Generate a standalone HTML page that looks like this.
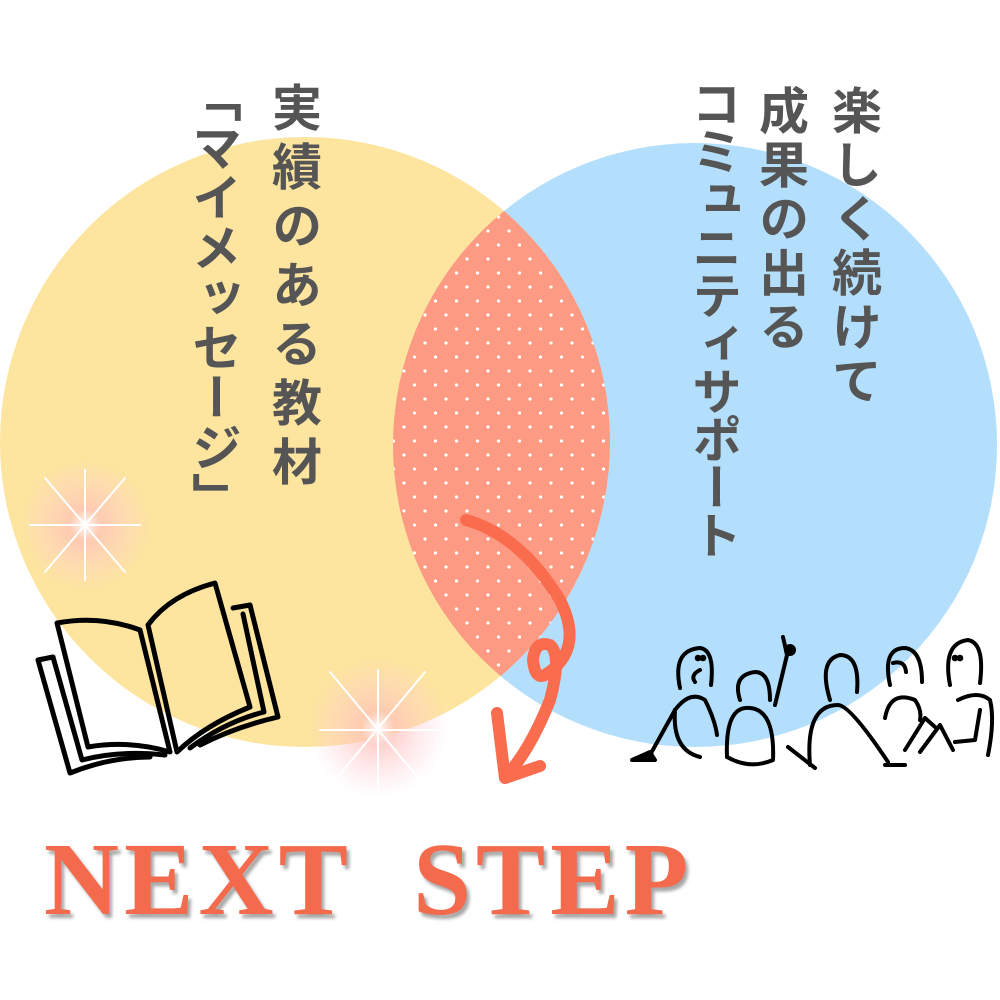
<!DOCTYPE html>
<html><head><meta charset="utf-8"><style>
html,body{margin:0;padding:0;background:#fff;}
#w{position:relative;width:1000px;height:1000px;overflow:hidden;}
.v{position:absolute;writing-mode:vertical-rl;font-family:"Liberation Sans","Noto Sans CJK JP",sans-serif;font-weight:bold;color:#555;font-size:50px;line-height:1;white-space:nowrap;}
#ns{position:absolute;left:44px;top:828px;font-family:"Liberation Serif",serif;font-weight:bold;font-size:104px;color:#f46a4c;letter-spacing:5px;text-shadow:3px 4px 3px rgba(0,0,0,0.35);white-space:pre;line-height:1;}
</style></head><body><div id="w">
<svg width="1000" height="1000" style="position:absolute;left:0;top:0">
<defs>
<clipPath id="cl"><circle cx="305" cy="442" r="305"/></clipPath>
<pattern id="dots" width="21" height="28" patternUnits="userSpaceOnUse">
<circle cx="5" cy="7" r="1.6" fill="#fff"/><circle cx="15.5" cy="21" r="1.6" fill="#fff"/>
</pattern>
<radialGradient id="gl"><stop offset="0" stop-color="#fff" stop-opacity="1"/><stop offset="0.25" stop-color="#ffc0b8" stop-opacity="0.7"/><stop offset="1" stop-color="#ffd0e0" stop-opacity="0"/></radialGradient>
</defs>
<circle cx="695" cy="445" r="302" fill="#b4dffc"/>
<circle cx="305" cy="442" r="305" fill="#fde49f"/>
<g clip-path="url(#cl)"><circle cx="695" cy="445" r="302" fill="#fd9a83"/><circle cx="695" cy="445" r="302" fill="url(#dots)"/></g>
<g>
<circle cx="85" cy="525" r="65" fill="url(#gl)"/>
<g stroke="#fff" stroke-linecap="round"><line x1="85" y1="470" x2="85" y2="580" stroke-width="2"/><line x1="30" y1="525" x2="140" y2="525" stroke-width="2"/><line x1="45" y1="478" x2="125" y2="572" stroke-width="2"/><line x1="125" y1="478" x2="45" y2="572" stroke-width="2"/></g>
<circle cx="378" cy="728" r="70" fill="url(#gl)"/>
<g stroke="#fff" stroke-linecap="round"><line x1="378" y1="670" x2="378" y2="790" stroke-width="2"/><line x1="320" y1="730" x2="440" y2="730" stroke-width="2"/><line x1="330" y1="672" x2="420" y2="780" stroke-width="2"/><line x1="425" y1="672" x2="335" y2="780" stroke-width="2"/></g>
</g>
<!-- book -->
<g fill="none" stroke="#000" stroke-width="5" stroke-linejoin="round" stroke-linecap="round">
<path d="M53,657 L38,660 L70,773 Q110,757 150,757"/>
<path d="M53,657 L82,760 Q120,750 165,755"/>
<path d="M57,623 Q100,615 140,630 L170,752 Q130,740 88,747 Z"/>
<path d="M148,625 Q170,595 215,583 L250,707 Q205,725 177,752 Z"/>
<path d="M233,608 L250,605 L278,717 Q235,727 200,745"/>
<path d="M243,614 L264,712 Q225,722 190,748"/>
</g>
<!-- arrow -->
<g fill="none" stroke="#f96c4d" stroke-width="12" stroke-linecap="round" stroke-linejoin="round">
<path d="M466,520 Q520,535 560,600 Q585,650 545,675 Q535,680 533,660 Q535,640 550,645 Q562,655 550,700 Q530,750 507,775"/>
<path d="M497,713 L505,778 L540,766"/>
</g>
<!-- people -->
<g fill="none" stroke="#000" stroke-width="4" stroke-linecap="round" stroke-linejoin="round">
<path d="M680,688 Q672,650 700,648 Q715,650 711,685"/>
<path d="M700,670 Q690,675 695,682"/>
<circle cx="698" cy="658" r="1.3" fill="#000"/><circle cx="703" cy="658" r="1.3" fill="#000"/>
<path d="M675,710 Q690,690 705,700 Q715,720 717,735"/>
<path d="M675,710 Q672,750 700,757"/>
<path d="M675,710 L650,755"/>
<path d="M632,760 L650,752 L655,760 Z" fill="#000"/>
<path d="M740,700 Q732,675 755,672 Q770,672 770,700"/>
<path d="M783,637 L787,655 L775,705"/>
<circle cx="790" cy="650" r="4" fill="#000"/>
<path d="M727,757 Q725,705 750,708 Q775,710 773,760 Q750,770 727,757"/>
<path d="M830,700 Q818,660 840,655 Q860,655 857,692"/>
<path d="M810,765 Q805,705 838,705 Q850,705 888,762"/>
<path d="M788,747 L815,768"/>
<path d="M885,765 L905,765"/>
<path d="M890,685 Q882,648 905,648 Q922,650 922,682"/>
<path d="M893,663 Q905,660 906,672"/>
<path d="M885,718 Q890,690 915,700 Q922,710 920,720"/>
<path d="M905,750 L925,718 L935,727"/>
<path d="M920,752 L940,725 L953,750"/>
<path d="M950,685 Q942,643 968,640 Q985,643 980,683"/>
<circle cx="955" cy="658" r="1.3" fill="#000"/><circle cx="960" cy="658" r="1.3" fill="#000"/>
<path d="M958,700 Q978,690 990,700 Q995,720 988,755"/>
<path d="M955,742 L975,740 L980,710"/>
</g>
</svg>
<div class="v" style="left:268px;top:82px;letter-spacing:9px;">実績のある教材</div>
<div class="v" style="left:188px;top:72px;letter-spacing:0px;">「マイメッセージ」</div>
<div class="v" style="left:828px;top:85px;letter-spacing:4px;">楽しく続けて</div>
<div class="v" style="left:755px;top:85px;letter-spacing:4px;">成果の出る</div>
<div class="v" style="left:688px;top:78px;letter-spacing:-2px;">コミュニティサポート</div>
<div id="ns">NEXT  STEP</div>
</div></body></html>
